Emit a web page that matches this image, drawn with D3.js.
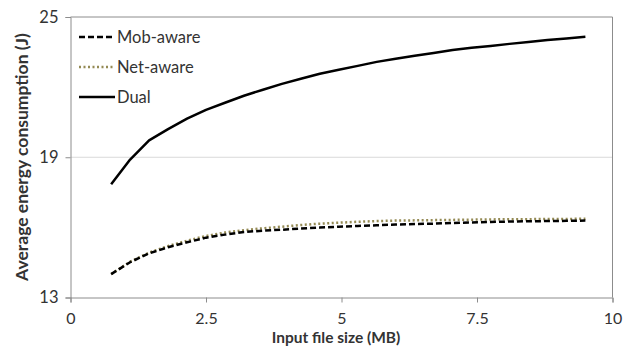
<!DOCTYPE html>
<html><head><meta charset="utf-8">
<script src="https://cdn.jsdelivr.net/npm/d3@7"></script>
<style>
html,body{margin:0;padding:0;background:#fff;}
svg{display:block;}
text{font-family:Lato,"Open Sans",sans-serif;fill:#333;}
</style></head>
<body>
<svg id="chart" width="624" height="346"></svg>
<script>
const fileSizes = [0.75,1.1,1.45,1.8,2.15,2.5,2.85,3.2,3.55,3.9,4.25,4.6,4.95,5.3,5.65,6.0,6.35,6.7,7.05,7.4,7.75,8.1,8.45,8.8,9.15,9.5];
const mobAware = [14.00,14.51,14.89,15.15,15.36,15.56,15.69,15.80,15.86,15.90,15.95,15.99,16.03,16.06,16.09,16.12,16.14,16.16,16.19,16.21,16.23,16.25,16.26,16.27,16.28,16.29];
const netAware = [14.00,14.53,14.92,15.20,15.43,15.63,15.78,15.88,15.96,16.03,16.10,16.16,16.20,16.24,16.27,16.29,16.30,16.31,16.32,16.33,16.34,16.35,16.35,16.36,16.36,16.37];
const dual = [17.84,18.90,19.72,20.20,20.65,21.03,21.33,21.63,21.89,22.14,22.36,22.57,22.74,22.91,23.08,23.21,23.34,23.46,23.59,23.68,23.76,23.85,23.93,24.02,24.08,24.15];
const xTicks = [0,2.5,5,7.5,10];
const yTicks = [13,19,25];
const seriesNames = ["Mob-aware","Net-aware","Dual"];

const svg = d3.select("#chart");
const L = 70.5, R = 612.5, T = 17, B = 297.5;
const x = d3.scaleLinear().domain([0,10]).range([L,R]);
const y = d3.scaleLinear().domain([13,25]).range([B,T]);
const axisColor = "#8c8c8c";

// gridline
svg.append("g").selectAll("line").data(yTicks.filter(d=>d!==13&&d!==25)).join("line")
  .attr("x1",L).attr("x2",R).attr("y1",d=>y(d)).attr("y2",d=>y(d))
  .attr("stroke","#d9d9d9").attr("stroke-width",1);

// plot border top/right
svg.append("path").attr("d",`M${L},${T}H${R}V${B}`).attr("fill","none").attr("stroke",axisColor).attr("stroke-width",1);

// axes
const xAxis = d3.axisBottom(x).tickValues(xTicks).tickFormat(d=>d3.format("")(d)).tickSize(5).tickPadding(10);
const gx = svg.append("g").attr("transform",`translate(0,${B})`).call(xAxis);
gx.select(".domain").attr("stroke",axisColor);
gx.selectAll(".tick line").attr("stroke",axisColor);
gx.selectAll(".tick text").attr("font-size",16).attr("fill","#333").attr("font-family","Lato");

const yAxis = d3.axisLeft(y).tickValues(yTicks).tickSize(5).tickPadding(7);
const gy = svg.append("g").attr("transform",`translate(${L},0)`).call(yAxis);
gy.select(".domain").attr("stroke",axisColor);
gy.selectAll(".tick line").attr("stroke",axisColor);
gy.selectAll(".tick text").attr("font-size",16.5).attr("fill","#333").attr("font-family","Lato");

// lines
const data = fileSizes.map((f,i)=>({f,m:mobAware[i],n:netAware[i],d:dual[i]}));
const mk = key => d3.line().x(d=>x(d.f)).y(d=>y(d[key]));
const styles = [
  {key:"d", color:"#000", dash:null, w:2.5},
  {key:"n", color:"#948a54", dash:"2,2.5", w:2.5},
  {key:"m", color:"#000", dash:"6,3", w:2.5}
];
styles.forEach(s=>{
  svg.append("path").datum(data).attr("d",mk(s.key)).attr("fill","none")
    .attr("stroke",s.color).attr("stroke-width",s.w).attr("stroke-dasharray",s.dash)
    .attr("stroke-linejoin","round");
});

// legend
const legendStyles = [
  {name:seriesNames[0], color:"#000", dash:"6,3"},
  {name:seriesNames[1], color:"#948a54", dash:"2,2.5"},
  {name:seriesNames[2], color:"#000", dash:null}
];
const lg = svg.append("g");
legendStyles.forEach((s,i)=>{
  const yy = 37 + i*30;
  lg.append("line").attr("x1",79).attr("x2",115).attr("y1",yy).attr("y2",yy)
    .attr("stroke",s.color).attr("stroke-width",2.5).attr("stroke-dasharray",s.dash);
  lg.append("text").attr("x",117).attr("y",yy).attr("dy","0.35em")
    .attr("font-size",16.5).text(s.name);
});

// axis titles
svg.append("text").attr("x",336).attr("y",342.7).attr("text-anchor","middle")
  .attr("font-weight","bold").attr("font-size",15.5).attr("fill","#222").text("Input file size (MB)");
svg.append("text").attr("transform","translate(28,157) rotate(-90)").attr("text-anchor","middle")
  .attr("font-weight","bold").attr("font-size",17.5).attr("fill","#222").text("Average energy consumption (J)");
</script>
</body></html>
